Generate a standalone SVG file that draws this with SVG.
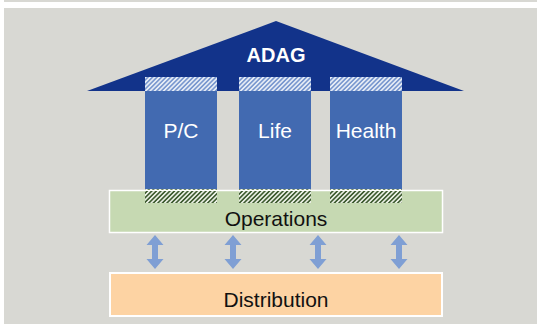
<svg xmlns="http://www.w3.org/2000/svg" width="537" height="324" viewBox="0 0 537 324">
  <style>
    .col { fill: #426ab1; }
    .lbl { font-family: "Liberation Sans", Arial, sans-serif; font-size: 21px; text-anchor: middle; }
    .light { fill: #ffffff; }
    .dark { fill: #111111; }
    .arrow { fill: #7f9fd4; }
  </style>
  <defs>
    <pattern id="hatchTop" width="3.2" height="3.2" patternUnits="userSpaceOnUse" patternTransform="rotate(45)">
      <rect width="3.2" height="3.2" fill="#7a98cf"/>
      <rect width="1.6" height="3.2" fill="#e6ecf5"/>
    </pattern>
    <pattern id="hatchBottom" width="3.2" height="3.2" patternUnits="userSpaceOnUse" patternTransform="rotate(45)">
      <rect width="3.2" height="3.2" fill="#3f5c31"/>
      <rect width="1.6" height="3.2" fill="#e9eee3"/>
    </pattern>
    <path id="dblArrow" d="M0,0 L8.5,10 L3,10 L3,24 L8.5,24 L0,34 L-8.5,24 L-3,24 L-3,10 L-8.5,10 Z"/>
  </defs>

  <!-- background -->
  <rect width="537" height="324" fill="#ffffff"/>
  <rect x="4" y="0" width="533" height="2" fill="#d8d8d3"/>
  <rect x="4" y="8" width="533" height="316" fill="#d8d8d3"/>

  <!-- roof -->
  <g id="adag">
    <polygon points="276,21 464,91 87,91" fill="#12338a"/>
    <text class="lbl light" x="276" y="62" style="font-weight:bold;font-size:20px">ADAG</text>
  </g>

  <!-- pillars -->
  <g id="pc">
    <rect class="col" x="145" y="91" width="72" height="98"/>
    <rect x="145" y="77" width="72" height="14" fill="url(#hatchTop)"/>
    <rect x="145" y="189" width="72" height="14" fill="url(#hatchBottom)"/>
    <text class="lbl light" x="181" y="138">P/C</text>
  </g>
  <g id="life">
    <rect class="col" x="239" y="91" width="72" height="98"/>
    <rect x="239" y="77" width="72" height="14" fill="url(#hatchTop)"/>
    <rect x="239" y="189" width="72" height="14" fill="url(#hatchBottom)"/>
    <text class="lbl light" x="275" y="138">Life</text>
  </g>
  <g id="health">
    <rect class="col" x="330" y="91" width="72" height="98"/>
    <rect x="330" y="77" width="72" height="14" fill="url(#hatchTop)"/>
    <rect x="330" y="189" width="72" height="14" fill="url(#hatchBottom)"/>
    <text class="lbl light" x="366" y="138">Health</text>
  </g>

  <!-- foundation -->
  <g id="operations">
    <rect x="109.5" y="190.5" width="333" height="42" fill="#c6d9b2" stroke="#ffffff" stroke-width="1.5"/>
    <rect x="145" y="191" width="72" height="12" fill="url(#hatchBottom)"/>
    <rect x="239" y="191" width="72" height="12" fill="url(#hatchBottom)"/>
    <rect x="330" y="191" width="72" height="12" fill="url(#hatchBottom)"/>
    <text class="lbl dark" x="276" y="226">Operations</text>
  </g>

  <g id="distribution">
    <rect x="110" y="273" width="332" height="43" fill="#fdd3a3" stroke="#ffffff" stroke-width="2"/>
    <text class="lbl dark" x="276" y="307">Distribution</text>
  </g>

  <!-- links between operations and distribution -->
  <g id="connectors" class="arrow">
    <use href="#dblArrow" x="155" y="235"/>
    <use href="#dblArrow" x="233" y="235"/>
    <use href="#dblArrow" x="318" y="235"/>
    <use href="#dblArrow" x="399" y="235"/>
  </g>
</svg>
